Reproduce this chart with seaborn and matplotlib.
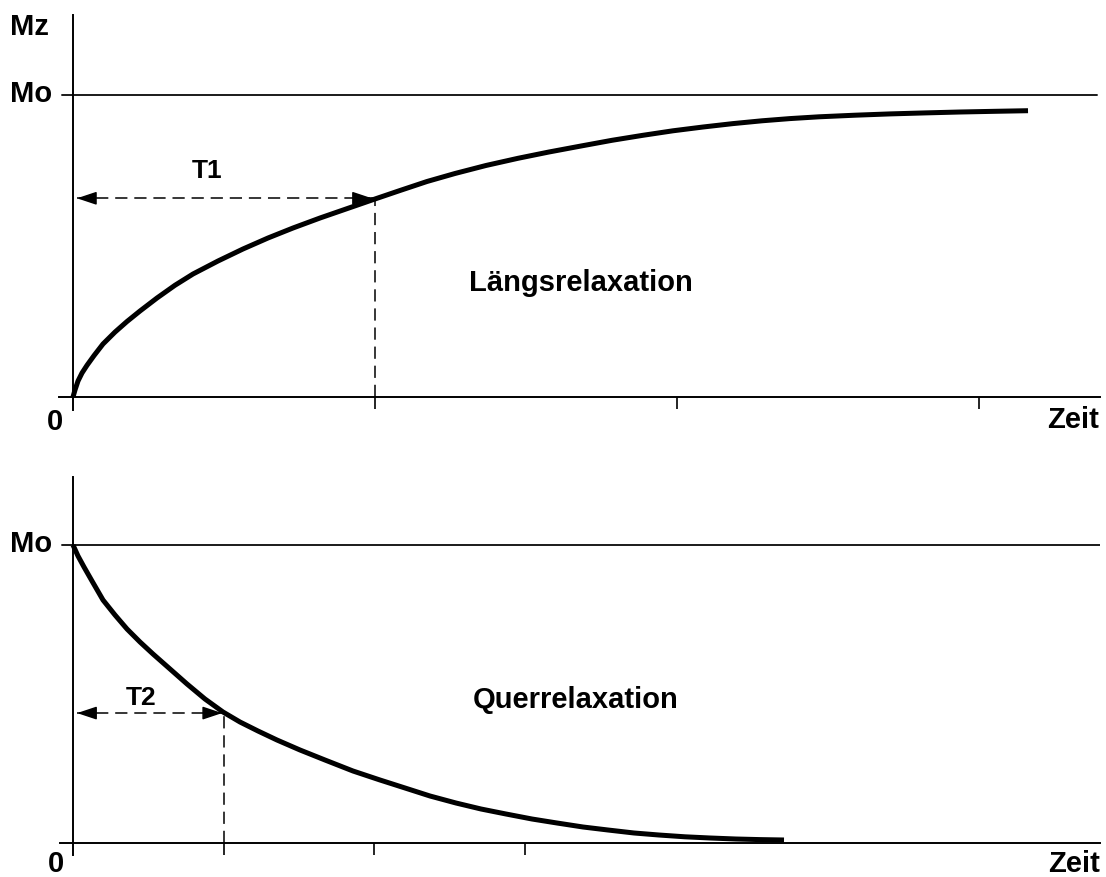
import matplotlib
matplotlib.use('Agg')
import numpy as np
import pandas as pd
import matplotlib.pyplot as plt
import seaborn as sns

W, H = 1106, 877

# Laengsrelaxation (Mz / Mo), time in units of T1
t_long = [0.0, 0.0066, 0.0166, 0.0298, 0.0464, 0.0695, 0.0993, 0.1391, 0.1788,
          0.2219, 0.2781, 0.3377, 0.3974, 0.4801, 0.5629, 0.6457, 0.7285, 0.8179,
          0.9040, 0.9901, 1.0828, 1.1722, 1.2649, 1.3675, 1.4735, 1.5762, 1.6821,
          1.7848, 1.8874, 1.9868, 2.0861, 2.1854, 2.2815, 2.3742, 2.4702, 2.5894,
          2.7053, 2.8212, 2.9371, 3.0530, 3.1623]
mz_long = [0.0, 0.0232, 0.0530, 0.0795, 0.1050, 0.1370, 0.1755, 0.2150, 0.2500,
           0.2848, 0.3278, 0.3700, 0.4073, 0.4503, 0.4901, 0.5265, 0.5596, 0.5927,
           0.6225, 0.6523, 0.6838, 0.7136, 0.7401, 0.7666, 0.7904, 0.8113, 0.8311,
           0.8500, 0.8666, 0.8815, 0.8940, 0.9053, 0.9146, 0.9219, 0.9278, 0.9331,
           0.9374, 0.9407, 0.9437, 0.9460, 0.9480]

# Querrelaxation (Mxy / Mo), time in units of T2
t_trans = [0.0, 0.0332, 0.0730, 0.1261, 0.1991, 0.2787, 0.3584, 0.4446, 0.5309,
           0.6437, 0.7565, 0.8759, 0.9954, 1.1082, 1.2276, 1.3537, 1.5063, 1.6722,
           1.8580, 2.0372, 2.2031, 2.3690, 2.5415, 2.7074, 2.8733, 3.0458, 3.2117,
           3.3842, 3.5501, 3.7226, 3.8885, 4.0611, 4.2270, 4.3995, 4.5587, 4.7180]
m_trans = [1.0, 0.9631, 0.9262, 0.8792, 0.8154, 0.7651, 0.7181, 0.6745, 0.6342,
           0.5839, 0.5336, 0.4832, 0.4396, 0.4060, 0.3758, 0.3456, 0.3121, 0.2785,
           0.2416, 0.2114, 0.1846, 0.1577, 0.1342, 0.1141, 0.0973, 0.0805, 0.0671,
           0.0537, 0.0436, 0.0336, 0.0268, 0.0208, 0.0168, 0.0134, 0.0114, 0.0101]

T1, T1_level = 1.0, 0.658
T2, T2_level = 1.0, 0.436
time_ticks = [1, 2, 3]

long_df = pd.DataFrame({'t': t_long, 'm': mz_long})
trans_df = pd.DataFrame({'t': t_trans, 'm': m_trans})

sns.set_theme(style='white')
plt.rcParams['font.family'] = ['Liberation Sans', 'DejaVu Sans']

fig = plt.figure(figsize=(W / 100, H / 100), dpi=100)


def panel(left, top, right, bottom, x0, xunit, y0, yunit):
    # box in pixels, origin (x0, y0) in pixels, units in pixels
    ax = fig.add_axes([left / W, 1 - bottom / H, (right - left) / W, (bottom - top) / H])
    ax.patch.set_visible(False)
    ax.set_xlim(-(x0 - left) / xunit, (right - x0) / xunit)
    ax.set_ylim(-(bottom - y0) / yunit, (y0 - top) / yunit)
    for s in ['top', 'right']:
        ax.spines[s].set_visible(False)
    for s in ['left', 'bottom']:
        ax.spines[s].set_position(('data', 0))
        ax.spines[s].set_color('black')
        ax.spines[s].set_linewidth(1.4)
    ax.set_xticks(time_ticks)
    ax.set_xticklabels([])
    ax.set_yticks([])
    ax.tick_params(axis='x', direction='out', length=8.6, width=1.2, color='black', bottom=True)
    return ax


def txt(x, y, s, ha='left', size=21):
    fig.text(x / W, 1 - y / H, s, ha=ha, va='baseline', fontsize=size,
             fontweight='bold', color='black')


def dashed_arrow(ax, x_end, level, x_start):
    dash = (0, (8, 4.5))
    ax.hlines(level, x_start, x_end, colors='black', linewidth=1.1, linestyles=[dash])
    ax.vlines(x_end, 0, level, colors='black', linewidth=1.1, linestyles=[dash])
    head = dict(arrowstyle='-|>,head_length=1.2,head_width=0.4', mutation_scale=10,
                color='black', lw=1.1, shrinkA=0, shrinkB=0)
    span = (x_end - x_start) * 0.04
    ax.annotate('', xy=(x_start, level), xytext=(x_start + span, level), arrowprops=head)
    ax.annotate('', xy=(x_end - 0.01, level), xytext=(x_end - 0.01 - span, level), arrowprops=head)


curve_kw = dict(color='black', linewidth=3.6, solid_capstyle='butt', solid_joinstyle='round')

# top panel
ax1 = panel(59, 15, 1100, 410, 73, 302, 397, 302)
ax1.axhline(1, xmin=3 / 1041, xmax=1038 / 1041, color='#1a1a1a', linewidth=1.4)
sns.lineplot(data=long_df, x='t', y='m', ax=ax1, **curve_kw)
dashed_arrow(ax1, T1, T1_level, 0.013)
ax1.set_xlabel('')
ax1.set_ylabel('')

# bottom panel
ax2 = panel(60, 477, 1100, 855, 73, 150.7, 843, 298)
ax2.axhline(1, xmin=2 / 1040, xmax=1.0, color='#1a1a1a', linewidth=1.4)
sns.lineplot(data=trans_df, x='t', y='m', ax=ax2, **curve_kw)
dashed_arrow(ax2, T2, T2_level, 0.027)
ax2.set_xlabel('')
ax2.set_ylabel('')

txt(10, 35, 'Mz')
txt(10, 102, 'Mo')
txt(47, 430, '0')
txt(1099, 428, 'Zeit', ha='right')
txt(207, 178, 'T1', ha='center', size=19)
txt(469, 291, 'Längsrelaxation')

txt(10, 552, 'Mo')
txt(48, 872, '0')
txt(1100, 872, 'Zeit', ha='right')
txt(141, 705, 'T2', ha='center', size=19)
txt(473, 708, 'Querrelaxation')

fig.savefig('out.png', dpi=100)
